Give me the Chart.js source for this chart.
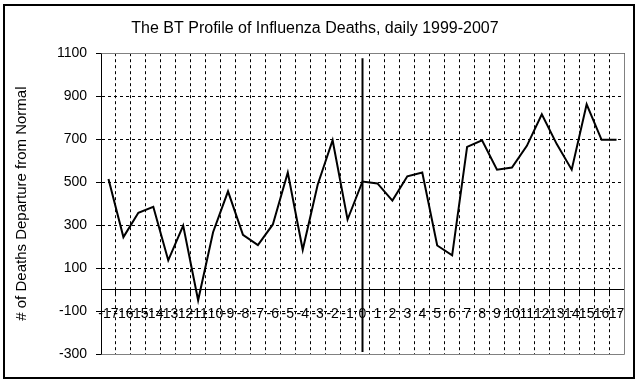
<!DOCTYPE html>
<html>
<head>
<meta charset="utf-8">
<script src="https://cdn.jsdelivr.net/npm/chart.js@4/dist/chart.umd.min.js"></script>
<style>
  html, body { margin: 0; padding: 0; background: #fff; }
  #wrap { width: 641px; height: 384px; }
</style>
</head>
<body>
<div id="wrap"><canvas id="chart" width="641" height="384"></canvas></div>
<script>
// day offsets around the event
const days = ["-17","-16","-15","-14","-13","-12","-11","-10","-9","-8","-7","-6","-5","-4","-3","-2","-1",
              "0","1","2","3","4","5","6","7","8","9","10","11","12","13","14","15","16","17"];

// deaths departure from normal
const deaths = [515, 244, 357, 385, 136, 298, -50, 267, 457, 255, 207, 303, 545, 185, 488, 695, 326,
                503, 494, 414, 527, 545, 205, 159, 664, 695, 558, 568, 669, 816, 677, 558, 862, 697, 697];

// marker line at day 0
const markerDay = "0";
const markerRange = [1077, -291];

const yTicks = { min: -300, max: 1100, step: 200 };

const FONT = "'Liberation Sans', Arial, sans-serif";

const framePlugin = {
    id: "frame",
    beforeDraw(chart) {
        const c = chart.ctx;
        c.save();
        c.fillStyle = "#fff";
        c.fillRect(0, 0, chart.width, chart.height);
        c.restore();
    },
    afterDraw(chart) {
        const c = chart.ctx;
        const a = chart.chartArea;
        c.save();
        // plot area edges (top, right, bottom)
        c.strokeStyle = "#808080";
        c.lineWidth = 1;
        c.beginPath();
        c.moveTo(Math.round(a.left) + 0.5, Math.round(a.top) + 0.5);
        c.lineTo(Math.round(a.right) + 0.5, Math.round(a.top) + 0.5);
        c.lineTo(Math.round(a.right) + 0.5, Math.round(a.bottom) + 0.5);
        c.lineTo(Math.round(a.left) + 0.5, Math.round(a.bottom) + 0.5);
        c.stroke();
        // outer chart border
        c.strokeStyle = "#000";
        c.lineWidth = 2;
        c.strokeRect(4, 5, 630, 373);
        c.restore();
    }
};

const ctx = document.getElementById("chart");

new Chart(ctx, {
    type: "line",
    data: {
        labels: days,
        datasets: [
            {
                data: deaths,
                borderColor: "#000",
                borderWidth: 2,
                tension: 0,
                pointRadius: 0,
                fill: false
            },
            {
                data: markerRange.map(v => ({ x: markerDay, y: v })),
                borderColor: "#000",
                borderWidth: 2,
                pointRadius: 0,
                fill: false
            }
        ]
    },
    options: {
        responsive: false,
        animation: false,
        layout: { padding: { left: 6, right: 17, top: 0, bottom: 30 } },
        plugins: {
            legend: { display: false },
            tooltip: { enabled: false },
            title: {
                display: true,
                text: "The BT Profile of Influenza Deaths, daily 1999-2007",
                color: "#000",
                font: { family: FONT, size: 16, weight: "normal" },
                padding: { top: 19, bottom: 15 }
            }
        },
        scales: {
            x: {
                type: "category",
                position: { y: 0 },
                offset: true,
                grid: {
                    offset: true,
                    color: c => (c.index === 0 || c.index === days.length) ? "rgba(0,0,0,0)" : "#000",
                    lineWidth: 1,
                    tickColor: "#000",
                    tickLength: 5,
                    tickBorderDash: []
                },
                border: { display: true, color: "#000", width: 1, dash: [3, 3] },
                ticks: {
                    autoSkip: false,
                    maxRotation: 0,
                    minRotation: 0,
                    padding: 11,
                    color: "#000",
                    font: { family: FONT, size: 14 }
                }
            },
            y: {
                min: yTicks.min,
                max: yTicks.max,
                afterFit: s => { s.width = 95; },
                grid: {
                    color: c => (c.tick && (c.tick.value === yTicks.min || c.tick.value === yTicks.max)) ? "rgba(0,0,0,0)" : "#000",
                    lineWidth: 1,
                    tickColor: "#000",
                    tickLength: 5,
                    tickBorderDash: []
                },
                border: { display: true, color: "#000", width: 1, dash: [3, 3] },
                ticks: {
                    stepSize: yTicks.step,
                    padding: 9,
                    color: "#000",
                    font: { family: FONT, size: 14 },
                    callback: v => String(v)
                },
                title: {
                    display: true,
                    text: "# of Deaths Departure from Normal",
                    color: "#000",
                    font: { family: FONT, size: 15 },
                    padding: { top: 7, bottom: 0 }
                }
            }
        }
    },
    plugins: [framePlugin]
});
</script>
</body>
</html>
